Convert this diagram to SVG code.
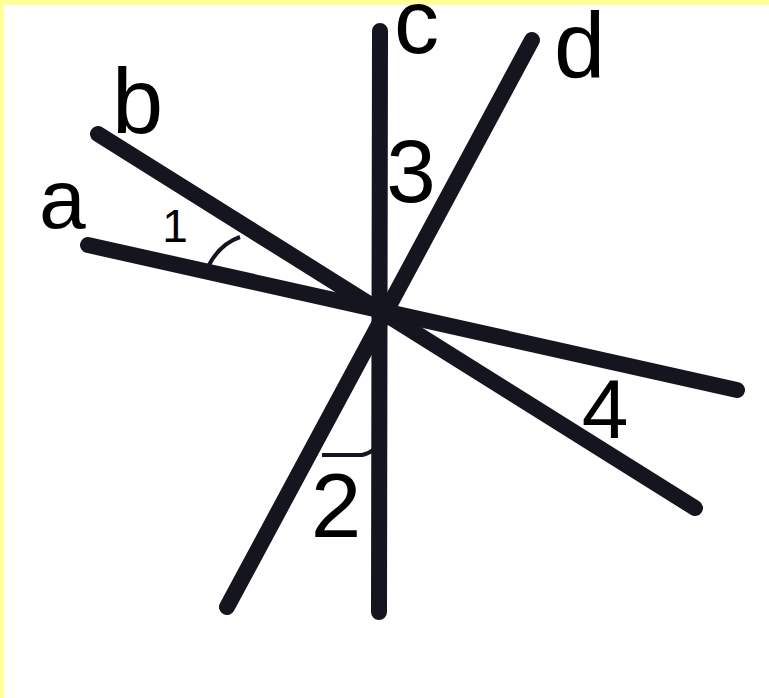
<svg xmlns="http://www.w3.org/2000/svg" width="769" height="698" viewBox="0 0 769 698">
<style>
.ln{stroke:#15151f;stroke-width:16;stroke-linecap:round;fill:none}
.arc{stroke:#15151f;stroke-width:4;fill:none}
.t{font-family:"Liberation Sans",Arial,sans-serif;fill:#000}
</style>
<rect x="0" y="0" width="769" height="698" fill="#ffff99"/>
<rect x="4" y="5" width="765" height="693" fill="#ffffff"/>
<g id="connectors">
<line id="line-c" class="ln" x1="380" y1="31" x2="379" y2="612"/>
<line id="line-d" class="ln" x1="532" y1="40" x2="227" y2="607"/>
<line id="line-a" class="ln" x1="88" y1="245" x2="737" y2="390"/>
<line id="line-b" class="ln" x1="98" y1="134" x2="695" y2="508"/>
<path id="arc-1" class="arc" d="M 209 265 Q 220 244 240 237"/>
<path id="arc-2" class="arc" d="M 322 455 L 362 455 Q 368 454 373 450"/>
</g>
<g id="label-a"><text class="t" x="39" y="228" font-size="84">a</text></g>
<g id="label-b"><text class="t" x="112" y="133" font-size="92">b</text></g>
<g id="label-c"><text class="t" x="394" y="53" font-size="90">c</text></g>
<g id="label-d"><text class="t" x="554" y="77" font-size="92">d</text></g>
<g id="label-1"><text class="t" x="175" y="242" font-size="46" text-anchor="middle">1</text></g>
<g id="label-2"><text class="t" x="336" y="537" font-size="91" text-anchor="middle">2</text></g>
<g id="label-3"><text class="t" x="411" y="202" font-size="89" text-anchor="middle">3</text></g>
<g id="label-4"><text class="t" x="605" y="438" font-size="84" text-anchor="middle">4</text></g>
</svg>
